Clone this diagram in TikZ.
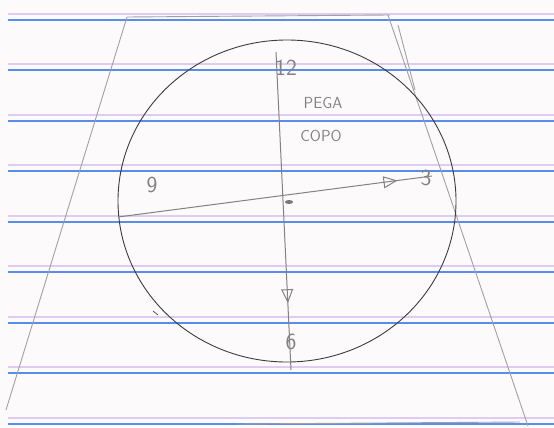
\documentclass[tikz,border=0pt]{standalone}
\usetikzlibrary{arrows.meta,decorations.markings}
\definecolor{paper}{RGB}{253,250,252}
\definecolor{blueline}{RGB}{90,140,235}
\definecolor{pinkline}{RGB}{222,204,242}
\definecolor{pencil}{RGB}{130,130,130}
\definecolor{darkpencil}{RGB}{60,60,60}
\tikzset{
  ruled/.style={blueline,line width=1.3pt},
  faint/.style={pinkline,line width=1.1pt},
  sketch/.style={pencil!75,line width=0.9pt},
  hand/.style={text=pencil,font=\sffamily,inner sep=0pt},
  clockarrow/.style={pencil,line width=1pt,postaction={decorate},
    decoration={markings,mark=at position #1 with {\arrow{Triangle[open,length=14pt,width=12pt]}}}}
}
\begin{document}
\begin{tikzpicture}[x=1pt,y=-1pt]
\fill[paper] (0,0) rectangle (554,428);
\useasboundingbox (0,0) rectangle (554,428);
% ruled lines
\foreach \yy in {14,64,115,165,216,266,317,367,418}{
  \draw[faint] (8,\yy) -- (554,\yy);
}
\foreach \yy in {20,70,121,171,222,272,323,373,424}{
  \draw[ruled] (8,\yy) -- (554,\yy);
}
% trapezoid (cup)
\draw[sketch] (127,17) -- (390,15);
\draw[sketch] (127,17) -- (6,410);
\draw[sketch] (388,15) -- (528,426);
\draw[sketch] (398,25) -- (415,90);
\draw[sketch] (238,424) -- (520,422);
% clock face
\draw[darkpencil,line width=0.9pt] (287,201) ellipse [x radius=169, y radius=161];
\draw[darkpencil,line width=0.7pt] (153,311) -- (158,315);
% hands
\coordinate (left) at (118,217);
\coordinate (right) at (432,176);
\coordinate (top) at (276,52);
\coordinate (bottom) at (291,370);
\draw[clockarrow=0.89] (left) -- (right);
\draw[clockarrow=0.79] (top) -- (bottom);
\fill[darkpencil!70] (289,202) ellipse [x radius=4, y radius=2];
% labels
\node[hand,font=\sffamily\fontsize{23}{25}\selectfont] (twelve) at (286,68) {12};
\node[hand,font=\sffamily\fontsize{23}{25}\selectfont] (three) at (426,178) {3};
\node[hand,font=\sffamily\fontsize{23}{25}\selectfont] (nine) at (152,185) {9};
\node[hand,font=\sffamily\fontsize{23}{25}\selectfont] (six) at (291,342) {6};
\node[hand,font=\sffamily\fontsize{16}{18}\selectfont] (pega) at (323,103) {PEGA};
\node[hand,font=\sffamily\fontsize{16}{18}\selectfont] (copo) at (321,136) {COPO};
\end{tikzpicture}
\end{document}
